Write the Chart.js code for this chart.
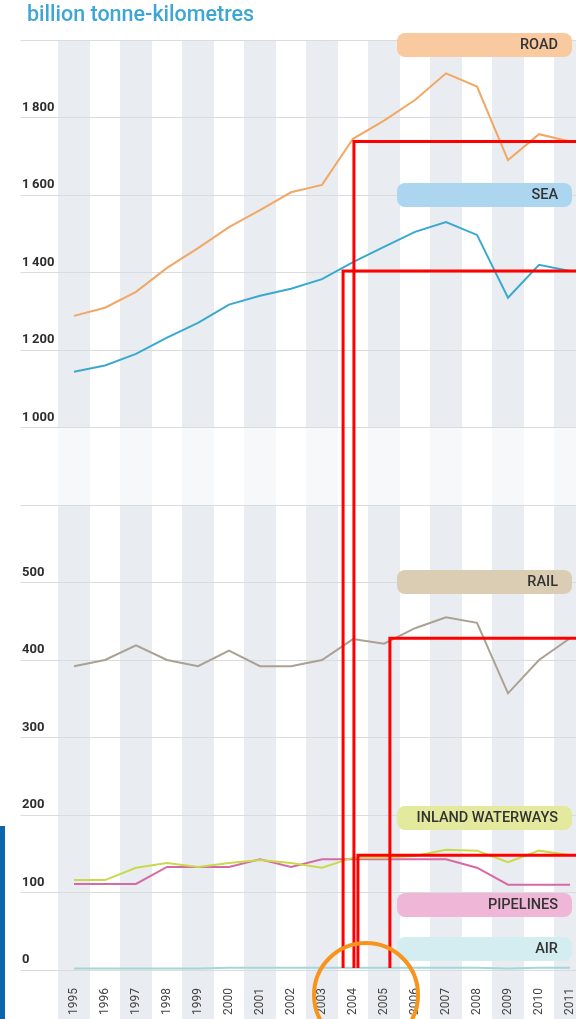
<!DOCTYPE html>
<html>
<head>
<meta charset="utf-8">
<script src="https://cdn.jsdelivr.net/npm/chart.js@4.4.1/dist/chart.umd.min.js"></script>
<style>
  html, body { margin: 0; padding: 0; background: #fff; overflow: hidden; }
  #wrap { position: relative; width: 576px; height: 1019px; overflow: hidden; }
  #chart { position: absolute; left: 0; top: 0; }
  .title { position: absolute; left: 27px; top: 1px; font: 500 21.5px Roboto, sans-serif; color: #3ea6d4; }
  .bar { position: absolute; left: 0; top: 826px; width: 5px; height: 193px; background: #0b66ad; }
</style>
</head>
<body>
<div id="wrap">
  <canvas id="chart" width="600" height="1019"></canvas>
  <div class="title">billion tonne-kilometres</div>
  <div class="bar"></div>
</div>
<script>
// data
var years = ['1995', '1996', '1997', '1998', '1999', '2000', '2001', '2002', '2003',
             '2004', '2005', '2006', '2007', '2008', '2009', '2010', '2011'];
var road = [1288, 1309, 1350, 1412, 1463, 1517, 1561, 1607, 1626, 1745, 1792, 1845, 1914, 1880, 1690, 1757, 1738];
var sea = [1144, 1160, 1190, 1232, 1270, 1317, 1340, 1358, 1383, 1427, 1466, 1505, 1530, 1497, 1335, 1420, 1404];
var rail = [392, 400, 419, 400, 392, 412, 392, 392, 400, 427, 421, 441, 455, 448, 357, 400, 428];
var waterways = [116, 116, 132, 138, 133, 138, 142, 138, 132, 145, 145, 147, 155, 154, 139, 154, 148];
var pipelines = [111, 111, 111, 133, 133, 133, 143, 133, 143, 143, 143, 143, 143, 132, 110, 110, 110];
var air = [2, 2, 2, 2, 2, 3, 3, 3, 3, 3, 3, 3, 3, 3, 2, 3, 3];
var topTicks = [1000, 1200, 1400, 1600, 1800];
var bottomTicks = [0, 100, 200, 300, 400, 500];

// right hand legend pills
var pills = [
    { text: 'ROAD', color: '#f9c9a0', top: 33 },
    { text: 'SEA', color: '#acd5ef', top: 183 },
    { text: 'RAIL', color: '#dacdb4', top: 570 },
    { text: 'INLAND WATERWAYS', color: '#e3e99d', top: 806 },
    { text: 'PIPELINES', color: '#efb6d7', top: 893 },
    { text: 'AIR', color: '#d4edf0', top: 937 }
];

// red guide lines (series index, category position of the drop line)
var guides = [
    { series: 1, at: 8.68 },
    { series: 0, at: 9.03 },
    { series: 3, at: 9.16 },
    { series: 2, at: 10.19 }
];

function fmt(v) {
    return v >= 1000 ? Math.floor(v / 1000) + '\u2009' + String(v % 1000).padStart(3, '0') : String(v);
}

var backdrop = {
    id: 'backdrop',
    beforeDraw: function (chart) {
        var ctx = chart.ctx, area = chart.chartArea, x = chart.scales.x;
        var w = x.width / years.length;
        ctx.save();
        ctx.fillStyle = '#e9edf1';
        for (var i = 0; i < years.length; i += 2) {
            var cx = x.getPixelForValue(i);
            ctx.fillRect(cx - w / 2 - 0.5, area.top, w + 1, chart.height - area.top);
        }
        // faded band over the axis break
        var t = chart.scales.yTop.bottom, b = chart.scales.yBottom.top;
        ctx.fillStyle = 'rgba(255,255,255,0.62)';
        ctx.fillRect(0, t, chart.width, b - t);
        ctx.restore();
    },
    afterDatasetsDraw: function (chart) {
        var ctx = chart.ctx;
        ctx.save();
        pills.forEach(function (p) {
            ctx.fillStyle = p.color;
            ctx.beginPath();
            ctx.roundRect(397, p.top, 175, 24, 8);
            ctx.fill();
            ctx.fillStyle = '#333';
            ctx.font = '500 14.5px Roboto, sans-serif';
            ctx.textAlign = 'right';
            ctx.textBaseline = 'middle';
            ctx.fillText(p.text, 558, p.top + 12.5);
        });
        ctx.restore();
    },
    afterDraw: function (chart) {
        var ctx = chart.ctx, area = chart.chartArea, x = chart.scales.x;
        ctx.save();
        ctx.strokeStyle = '#ff0000';
        ctx.lineWidth = 3;
        guides.forEach(function (g) {
            var ds = chart.data.datasets[g.series];
            var scale = chart.scales[ds.yAxisID];
            var py = scale.getPixelForValue(ds.data[ds.data.length - 1]);
            var px = x.getPixelForValue(g.at);
            ctx.beginPath();
            ctx.moveTo(px, area.bottom - 2);
            ctx.lineTo(px, py);
            ctx.lineTo(chart.width, py);
            ctx.stroke();
        });
        ctx.strokeStyle = '#f7941d';
        ctx.lineWidth = 4;
        ctx.beginPath();
        ctx.arc(x.getPixelForValue(9.42), area.bottom + 25, 52, 0, Math.PI * 2);
        ctx.stroke();
        ctx.restore();
    }
};

function line(label, data, color, axis) {
    return {
        label: label, data: data, yAxisID: axis,
        borderColor: color, borderWidth: 2, pointRadius: 0, tension: 0, fill: false
    };
}

var tickFont = { family: 'Roboto', size: 13, weight: 'bold' };

var config = {
    type: 'line',
    data: {
        labels: years,
        datasets: [
            line('Road', road, '#f2a765', 'yTop'),
            line('Sea', sea, '#3aa9cf', 'yTop'),
            line('Rail', rail, '#aaa193', 'yBottom'),
            line('Inland waterways', waterways, '#c9d94b', 'yBottom'),
            line('Pipelines', pipelines, '#d66aa6', 'yBottom'),
            line('Air', air, '#a5d6da', 'yBottom')
        ]
    },
    options: {
        responsive: false,
        animation: false,
        layout: { padding: { left: 22, right: 14.5, top: 40, bottom: 0 } },
        plugins: { legend: { display: false }, tooltip: { enabled: false } },
        scales: {
            x: {
                type: 'category',
                offset: true,
                grid: { display: false },
                border: { display: false },
                ticks: {
                    autoSkip: false, minRotation: 90, maxRotation: 90, padding: 10,
                    color: '#444', font: { family: 'Roboto', size: 12 }
                },
                afterFit: function (s) { s.height = 49; }
            },
            yBottom: {
                type: 'linear', position: 'left', stack: 'y', stackWeight: 6,
                min: 0, max: 600,
                afterBuildTicks: function (s) {
                    s.ticks = bottomTicks.concat([600]).map(function (v) { return { value: v }; });
                },
                ticks: {
                    crossAlign: 'far', labelOffset: -10, color: '#2e2e2e', font: tickFont,
                    callback: function (v) { return v === 600 ? '' : fmt(v); }
                },
                grid: { color: '#d9dcdf', tickLength: 38, tickColor: '#d9dcdf' },
                border: { display: false },
                afterFit: function (s) { s.width = 36.5; }
            },
            yGap: {
                type: 'linear', position: 'left', stack: 'y', stackWeight: 1,
                min: 0, max: 1,
                ticks: { display: false },
                grid: { display: false },
                border: { display: false },
                afterFit: function (s) { s.width = 36.5; }
            },
            yTop: {
                type: 'linear', position: 'left', stack: 'y', stackWeight: 5,
                min: 1000, max: 2000,
                afterBuildTicks: function (s) {
                    s.ticks = topTicks.concat([2000]).map(function (v) { return { value: v }; });
                },
                ticks: {
                    crossAlign: 'far', labelOffset: -10, color: '#2e2e2e', font: tickFont,
                    callback: function (v) { return v === 2000 ? '' : fmt(v); }
                },
                grid: { color: '#d9dcdf', tickLength: 38, tickColor: '#d9dcdf' },
                border: { display: false },
                afterFit: function (s) { s.width = 36.5; }
            }
        }
    },
    plugins: [backdrop]
};

var chart = new Chart(document.getElementById('chart'), config);
</script>
</body>
</html>
